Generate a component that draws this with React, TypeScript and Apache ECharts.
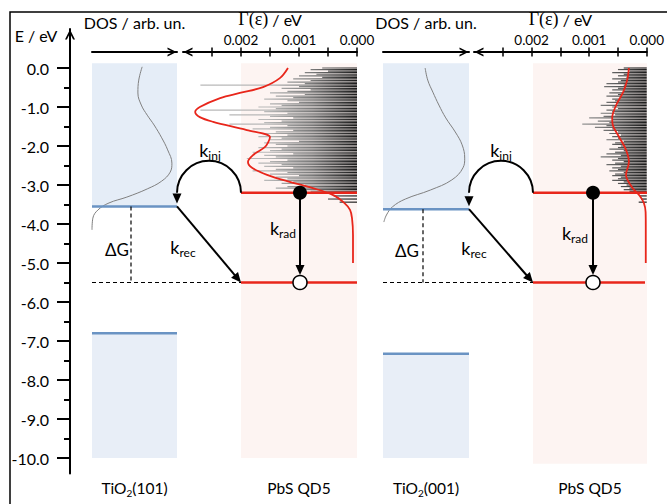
import React, { useEffect, useRef } from 'react';
import * as echarts from 'echarts';

// ---------------- data ----------------
const energyMajorTicks = [0, -1, -2, -3, -4, -5, -6, -7, -8, -9, -10];
const energyMinorTicks = [-0.5, -1.5, -2.5, -3.5, -4.5, -5.5, -6.5, -7.5, -8.5, -9.5];
const gammaTicks = [0, 0.0005, 0.001, 0.0015, 0.002, 0.0025];
const gammaTickLabels = [0, 0.001, 0.002];

const substrateFacets = ['101', '001'];
const dotName = 'PbS QD5';
const cbEdge = [-3.55, -3.62]; // TiO2 conduction band edge (eV)
const vbEdge = [-6.8, -7.33]; // TiO2 valence band edge (eV)
const qdLumo = [-3.2, -3.2];
const qdHomo = [-5.5, -5.5];
const bandTop = [0.12, 0.12];
const bandBottom = [-10.0, -10.0];
const qdBottom = [-10.0, -10.15];

// TiO2 density of states (arb. units) vs energy
const dosLeftE = [0.03, -0.31, -0.64, -0.95, -1.21, -1.46, -1.79, -2.1, -2.44, -2.67, -2.9, -3.1, -3.31, -3.46, -3.64, -3.85, -4.15];
const dosLeftV = [0.59, 0.55, 0.54, 0.58, 0.65, 0.73, 0.82, 0.89, 0.94, 0.92, 0.82, 0.65, 0.41, 0.2, 0.07, 0.01, 0.0];
const dosRightE = [0.0, -0.31, -0.62, -0.95, -1.28, -1.64, -1.97, -2.31, -2.56, -2.87, -3.13, -3.36, -3.56, -3.77, -3.95];
const dosRightV = [0.49, 0.52, 0.58, 0.65, 0.73, 0.84, 0.92, 0.95, 0.93, 0.8, 0.55, 0.26, 0.11, 0.04, 0.01];

// Broadened Gamma(E) curves (eV)
const gammaCurveLeftE = [0, -0.26, -0.49, -0.64, -0.77, -1.0, -1.13, -1.26, -1.38, -1.59, -1.77, -1.9, -2.03, -2.23, -2.41, -2.56, -2.74, -2.92, -3.08, -3.26, -3.46, -3.64, -3.85, -4.28, -5.0];
const gammaCurveLeftG = [0.00119, 0.00133, 0.00162, 0.00202, 0.00236, 0.00271, 0.00279, 0.00271, 0.00248, 0.0019, 0.0015, 0.00153, 0.00159, 0.00179, 0.00188, 0.00181, 0.00155, 0.00116, 0.00076, 0.00041, 0.00022, 0.00012, 0.000086, 0.000069, 0.000069];
const gammaCurveRightE = [0, -0.31, -0.62, -0.95, -1.28, -1.46, -1.77, -2.1, -2.41, -2.74, -3.05, -3.28, -3.46, -3.69, -4.03, -5.0];
const gammaCurveRightG = [0.00031, 0.00034, 0.00041, 0.00053, 0.0006, 0.00059, 0.00048, 0.00036, 0.00031, 0.00036, 0.00026, 0.00012, 0.00005, 0.00002, 0.000017, 0.000017];

// Individual state couplings Gamma (units of 1e-4 eV) at state energies (eV)
const stateE = [
  0.0, -0.04, -0.08, -0.12, -0.16, -0.2, -0.24, -0.28, -0.32, -0.36,
  -0.4, -0.44, -0.48, -0.52, -0.56, -0.6, -0.64, -0.68, -0.72, -0.76,
  -0.8, -0.84, -0.88, -0.92, -0.96, -1.0, -1.04, -1.08, -1.12, -1.16,
  -1.2, -1.24, -1.28, -1.32, -1.36, -1.4, -1.44, -1.48, -1.52, -1.56,
  -1.6, -1.64, -1.68, -1.72, -1.76, -1.8, -1.84, -1.88, -1.92, -1.96,
  -2.0, -2.04, -2.08, -2.12, -2.16, -2.2, -2.24, -2.28, -2.32, -2.36,
  -2.4, -2.44, -2.48, -2.52, -2.56, -2.6, -2.64, -2.68, -2.72, -2.76,
  -2.8, -2.84, -2.88, -2.92, -2.96, -3.0, -3.04, -3.08, -3.12, -3.16,
  -3.2, -3.28, -3.36, -3.44,
];
const stateGammaLeft = [
  6, 8, 5, 9, 7, 10, 6, 11, 8, 12,
  9, 27, 10, 13, 8, 12, 15, 9, 14, 11,
  16, 12, 10, 15, 13, 17, 14, 27, 16, 12,
  22, 15, 11, 17, 13, 16, 22, 12, 15, 18,
  11, 14, 16, 12, 17, 13, 15, 10, 16, 14,
  12, 17, 13, 15, 18, 11, 16, 14, 19, 12,
  15, 17, 13, 16, 11, 14, 18, 12, 15, 10,
  14, 12, 16, 11, 13, 9, 12, 14, 10, 8,
  11, 4, 5, 3,
];
const stateGammaRight = [
  4, 5, 3, 6, 4, 5, 3.5, 6, 4.5, 5,
  7, 4, 7.4, 5, 6, 4, 6.5, 5, 7, 4.5,
  6, 5.5, 7, 5, 8, 6, 5, 7, 6, 8,
  5.5, 7.5, 10, 6, 8.5, 6.5, 11.2, 7, 9, 6,
  7.5, 5, 6.5, 4.5, 6, 5, 7, 4, 5.5, 6,
  4.5, 5, 6.5, 4, 5.5, 7, 4.5, 8, 5, 6,
  4, 5.5, 7, 4.5, 6, 5, 6.5, 4, 5.5, 6,
  4.5, 5, 6, 4, 5, 3.5, 4.5, 3, 4, 3,
  2.5, 1.2, 1, 1.4,
];

// ---------------- layout ----------------
const W = 667;
const H = 504;
const Y0 = 68; // pixel row of E = 0
const PX_EV = 39;
const E_MAX = 1.0;
const E_MIN = -10.4;
const GRID_TOP = Y0 - E_MAX * PX_EV;
const GRID_BOTTOM = H - (Y0 - E_MIN * PX_EV);
const TOP_AXIS_Y = 52;
const TOP_OFFSET = -(TOP_AXIS_Y - GRID_TOP);
const MAIN_LEFT = 70;
const GAMMA_PX_PER_EV = 58000;
const GAMMA_MAX = 0.003;

const LAYOUT = [
  { tio2: [92, 177], qd: [241, 357], homoEnd: 357, gammaLeft: 183, dgX: 131, radX: 300,
    inj: [210, 150], rec: [183, 247], dG: [117, 249], rad: [283, 228] },
  { tio2: [383, 469], qd: [533, 647], homoEnd: 645, gammaLeft: 474, dgX: 423, radX: 593,
    inj: [501, 150], rec: [474, 248], dG: [407, 250], rad: [575, 233] },
];

const FONT = 'Lato, "Open Sans", sans-serif';
const RED = '#e8261b';
const BLUE_LINE = '#6a93c3';
const BAND_FILLS = ['#e5edf7', '#e8eef7', '#fdf4f2'];
const chevron = 'path://M0,10 L5,0 L10,10 L8.1,10 L5,3.8 L1.9,10 Z';

function hiddenY(gridIndex: number) {
  return { type: 'value', gridIndex, min: E_MIN, max: E_MAX, show: false };
}

function seg(x1: number, e1: number, x2: number, e2: number, color: string, width: number, dash?: number[], z = 4) {
  return {
    type: 'line', xAxisIndex: 0, yAxisIndex: 0, z, silent: true, showSymbol: false, symbol: 'none',
    data: [[x1, e1], [x2, e2]],
    lineStyle: { color, width, type: dash || 'solid' },
  };
}

function buildOption() {
  const grids: any[] = [];
  const xAxes: any[] = [];
  const yAxes: any[] = [];
  const series: any[] = [];
  const graphics: any[] = [];
  const gridBase = { top: GRID_TOP, bottom: GRID_BOTTOM, containLabel: false };

  // main grid with energy axis
  grids.push({ ...gridBase, left: MAIN_LEFT, right: 0 });
  xAxes.push({ type: 'value', gridIndex: 0, min: MAIN_LEFT, max: W, show: false });
  yAxes.push({
    type: 'value', gridIndex: 0, min: E_MIN, max: E_MAX, position: 'left',
    axisLine: { show: true, onZero: false, symbol: ['none', chevron], symbolSize: [10, 11], symbolOffset: [0, -5.5],
      lineStyle: { color: '#000', width: 2 } },
    axisTick: { show: true, length: 13, customValues: energyMajorTicks, lineStyle: { color: '#000', width: 2 } },
    axisLabel: { show: true, customValues: energyMajorTicks, formatter: (v: number) => v.toFixed(1),
      margin: 21, fontSize: 16, color: '#000', fontFamily: FONT },
    splitLine: { show: false },
  });
  yAxes.push({
    type: 'value', gridIndex: 0, min: E_MIN, max: E_MAX, position: 'left',
    axisLine: { show: false },
    axisTick: { show: true, length: 6, customValues: energyMinorTicks, lineStyle: { color: '#000', width: 2 } },
    axisLabel: { show: false },
    splitLine: { show: false },
  });

  // bands (fills)
  const bandData: number[][] = [];
  LAYOUT.forEach((L, p) => {
    bandData.push([L.tio2[0], L.tio2[1], bandTop[p], cbEdge[p], 0]);
    bandData.push([L.tio2[0], L.tio2[1], vbEdge[p], bandBottom[p], 1]);
    bandData.push([L.qd[0], L.qd[1], bandTop[p], qdBottom[p], 2]);
  });
  series.push({
    type: 'custom', xAxisIndex: 0, yAxisIndex: 0, z: 1, silent: true, data: bandData,
    renderItem: (params: any, api: any) => {
      const p1 = api.coord([api.value(0), api.value(2)]);
      const p2 = api.coord([api.value(1), api.value(3)]);
      return { type: 'rect', shape: { x: p1[0], y: p1[1], width: p2[0] - p1[0], height: p2[1] - p1[1] },
        style: { fill: BAND_FILLS[api.value(4)] } };
    },
  });

  const dosSets = [[dosLeftV, dosLeftE], [dosRightV, dosRightE]];
  const gammaSets = [[gammaCurveLeftG, gammaCurveLeftE], [gammaCurveRightG, gammaCurveRightE]];
  const stateSets = [stateGammaLeft, stateGammaRight];

  LAYOUT.forEach((L, p) => {
    // DOS grid
    const gDos = grids.length;
    grids.push({ ...gridBase, left: L.tio2[0], width: L.tio2[1] - L.tio2[0] });
    const xDos = xAxes.length;
    xAxes.push({
      type: 'value', gridIndex: gDos, min: 0, max: 1, position: 'top', offset: TOP_OFFSET,
      axisLine: { show: true, onZero: false, symbol: ['none', chevron], symbolSize: [9, 10], symbolOffset: [0, -5],
        lineStyle: { color: '#000', width: 2 } },
      axisTick: { show: false }, axisLabel: { show: false }, splitLine: { show: false },
      name: 'DOS / arb. un.', nameLocation: 'middle', nameGap: 22,
      nameTextStyle: { fontSize: 16, color: '#000', fontFamily: FONT },
    });
    const yDos = yAxes.length;
    yAxes.push(hiddenY(gDos));
    const [dv, de] = dosSets[p];
    series.push({
      type: 'line', xAxisIndex: xDos, yAxisIndex: yDos, z: 2, silent: true, smooth: 0.4,
      showSymbol: false, symbol: 'none', data: dv.map((v, i) => [v, de[i]]),
      lineStyle: { color: '#808080', width: 1 },
    });

    // Gamma grid
    const gG = grids.length;
    grids.push({ ...gridBase, left: L.gammaLeft, width: GAMMA_MAX * GAMMA_PX_PER_EV });
    const xG = xAxes.length;
    xAxes.push({
      type: 'value', gridIndex: gG, min: 0, max: GAMMA_MAX, inverse: true, position: 'top', offset: TOP_OFFSET,
      axisLine: { show: true, onZero: false, symbol: [chevron, 'none'], symbolSize: [9, 10], symbolOffset: [5, 0],
        lineStyle: { color: '#000', width: 2 } },
      axisTick: { show: true, length: 4.5, customValues: gammaTicks, lineStyle: { color: '#000', width: 1.5 } },
      axisLabel: { show: true, customValues: gammaTickLabels, formatter: (v: number) => v.toFixed(3), margin: 5,
        fontSize: 13.5, color: '#000', fontFamily: FONT },
      splitLine: { show: false },
      name: '{g|Γ(ε)} / eV', nameLocation: 'middle', nameGap: 21,
      nameTextStyle: { fontSize: 16, color: '#000', fontFamily: FONT,
        rich: { g: { fontSize: 18, fontFamily: '"Liberation Serif", "DejaVu Serif", serif', color: '#000' } } },
    });
    xAxes.push({
      type: 'value', gridIndex: gG, min: 0, max: GAMMA_MAX, inverse: true, position: 'top', offset: TOP_OFFSET,
      axisLine: { show: false, onZero: false },
      axisTick: { show: true, inside: true, length: 4.5, customValues: gammaTicks, lineStyle: { color: '#000', width: 1.5 } },
      axisLabel: { show: false }, splitLine: { show: false },
    });
    const yG = yAxes.length;
    yAxes.push(hiddenY(gG));

    // state couplings spectrum
    const sg = stateSets[p];
    series.push({
      type: 'custom', xAxisIndex: xG, yAxisIndex: yG, z: 2, silent: true,
      data: stateE.map((e, i) => [sg[i] * 1e-4, e]),
      renderItem: (params: any, api: any) => {
        const g = api.value(0);
        const e = api.value(1);
        const pR = api.coord([0, e]);
        const pL = api.coord([g, e]);
        return {
          type: 'rect',
          shape: { x: pL[0], y: pR[1] - 0.6, width: pR[0] - pL[0], height: 1.2 },
          style: {
            fill: new echarts.graphic.LinearGradient(pR[0], 0, pR[0] - 90, 0, [
              { offset: 0, color: '#1a1a1a' },
              { offset: 0.18, color: '#3c3c3c' },
              { offset: 0.5, color: '#7a7a7a' },
              { offset: 1, color: '#b8b8b8' },
            ], true),
          },
        };
      },
    });
    const [gv, ge] = gammaSets[p];
    series.push({
      type: 'line', xAxisIndex: xG, yAxisIndex: yG, z: 3, silent: true, smooth: 0.35,
      showSymbol: false, symbol: 'none', data: gv.map((v, i) => [v, ge[i]]),
      lineStyle: { color: RED, width: 1.8 },
    });

    // level lines
    series.push(seg(L.tio2[0], cbEdge[p], L.tio2[1], cbEdge[p], BLUE_LINE, 2.5));
    series.push(seg(L.tio2[0], vbEdge[p], L.tio2[1], vbEdge[p], BLUE_LINE, 2.5));
    series.push(seg(L.qd[0], qdLumo[p], L.qd[1], qdLumo[p], RED, 2.5));
    series.push(seg(L.qd[0], qdHomo[p], L.homoEnd, qdHomo[p], RED, 2.5));
    series.push(seg(L.dgX, cbEdge[p], L.dgX, qdHomo[p], '#000', 1.2, [4, 3]));
    series.push(seg(L.tio2[0], qdHomo[p], L.qd[0], qdHomo[p], '#000', 1.2, [4, 3]));

    // arrows: [x1, e1, x2, e2, kind(0 straight, 1 arc), endGapPx]
    series.push({
      type: 'custom', xAxisIndex: 0, yAxisIndex: 0, z: 5, silent: true,
      data: [
        [L.qd[0], qdLumo[p], L.tio2[1], cbEdge[p], 1, 3],
        [L.tio2[1], cbEdge[p], L.qd[0], qdHomo[p], 0, 0],
        [L.radX, qdLumo[p], L.radX, qdHomo[p], 0, 7.5],
      ],
      renderItem: (params: any, api: any) => {
        const p1 = api.coord([api.value(0), api.value(1)]);
        const p2 = api.coord([api.value(2), api.value(3)]);
        const kind = api.value(4);
        const gap = api.value(5);
        const head = 10;
        const hw = 4.5;
        const stroke = { stroke: '#000', lineWidth: 2, fill: null };
        if (kind === 0) {
          const dx = p2[0] - p1[0];
          const dy = p2[1] - p1[1];
          const len = Math.hypot(dx, dy);
          const ux = dx / len;
          const uy = dy / len;
          const tip = [p2[0] - ux * gap, p2[1] - uy * gap];
          const base = [tip[0] - ux * head, tip[1] - uy * head];
          return {
            type: 'group',
            children: [
              { type: 'line', shape: { x1: p1[0], y1: p1[1], x2: base[0] + ux, y2: base[1] + uy }, style: stroke },
              { type: 'polygon', shape: { points: [tip, [base[0] - uy * hw, base[1] + ux * hw], [base[0] + uy * hw, base[1] - ux * hw]] },
                style: { fill: '#000' } },
            ],
          };
        }
        const cx = (p1[0] + p2[0]) / 2;
        const r = Math.abs(p1[0] - p2[0]) / 2;
        const cy = p1[1];
        const tipY = p2[1] - gap;
        const ax = cx - r;
        return {
          type: 'group',
          children: [
            { type: 'arc', shape: { cx, cy, r, startAngle: Math.PI, endAngle: Math.PI * 2, clockwise: true }, style: stroke },
            { type: 'polygon', shape: { points: [[ax, tipY], [ax - hw, tipY - head], [ax + hw, tipY - head]] }, style: { fill: '#000' } },
          ],
        };
      },
    });

    // electron / hole
    series.push({
      type: 'scatter', xAxisIndex: 0, yAxisIndex: 0, z: 6, silent: true, symbol: 'circle', symbolSize: 14,
      data: [[L.radX, qdLumo[p]]], itemStyle: { color: '#000', opacity: 1 },
    });
    series.push({
      type: 'scatter', xAxisIndex: 0, yAxisIndex: 0, z: 6, silent: true, symbol: 'circle', symbolSize: 14,
      data: [[L.radX, qdHomo[p]]], itemStyle: { color: '#fff', borderColor: '#000', borderWidth: 1.5, opacity: 1 },
    });

    // text labels
    const kRich = {
      k: { fontSize: 18, fontFamily: FONT, fill: '#000' },
      s: { fontSize: 12, fontFamily: FONT, fill: '#000', padding: [11, 0, 0, 0] },
    };
    const kLabel = (pos: number[], sub: string) => ({
      type: 'text', x: pos[0], y: pos[1], z: 20,
      style: { text: `{k|k}{s|${sub}}`, rich: kRich, align: 'center', verticalAlign: 'middle', fill: '#000' },
    });
    graphics.push(kLabel(L.inj, 'inj'));
    graphics.push(kLabel(L.rec, 'rec'));
    graphics.push(kLabel(L.rad, 'rad'));
    graphics.push({
      type: 'text', x: L.dG[0], y: L.dG[1], z: 20,
      style: { text: 'ΔG', fontSize: 17, fontFamily: FONT, fill: '#000', align: 'center', verticalAlign: 'middle' },
    });
    graphics.push({
      type: 'text', x: (L.tio2[0] + L.tio2[1]) / 2, y: 488, z: 20,
      style: {
        text: `{m|TiO}{b|2}{m|(${substrateFacets[p]})}`,
        rich: { m: { fontSize: 15.5, fontFamily: FONT, fill: '#000' }, b: { fontSize: 10, fontFamily: FONT, fill: '#000', padding: [10, 0, 0, 0] } },
        align: 'center', verticalAlign: 'middle',
      },
    });
    graphics.push({
      type: 'text', x: (L.qd[0] + L.qd[1]) / 2, y: 488, z: 20,
      style: { text: dotName, fontSize: 15.5, fontFamily: FONT, fill: '#000', align: 'center', verticalAlign: 'middle' },
    });
  });

  graphics.push({
    type: 'rect', z: 0, silent: true, shape: { x: 10, y: 12, width: 700, height: 600 },
    style: { fill: 'none', stroke: '#000', lineWidth: 1.5 },
  });
  graphics.push({
    type: 'text', x: 36, y: 35, z: 20,
    style: { text: 'E / eV', fontSize: 16, fontFamily: FONT, fill: '#000', align: 'center', verticalAlign: 'middle' },
  });

  return {
    animation: false,
    backgroundColor: '#fff',
    textStyle: { fontFamily: FONT },
    grid: grids,
    xAxis: xAxes,
    yAxis: yAxes,
    series,
    graphic: graphics,
  };
}

export default function App() {
  const ref = useRef<HTMLDivElement>(null);
  useEffect(() => {
    const chart = echarts.init(ref.current!, null, { renderer: 'svg' });
    chart.setOption(buildOption() as any);
    return () => chart.dispose();
  }, []);
  return <div ref={ref} style={{ position: 'absolute', left: 0, top: 0, width: W, height: H }} />;
}
